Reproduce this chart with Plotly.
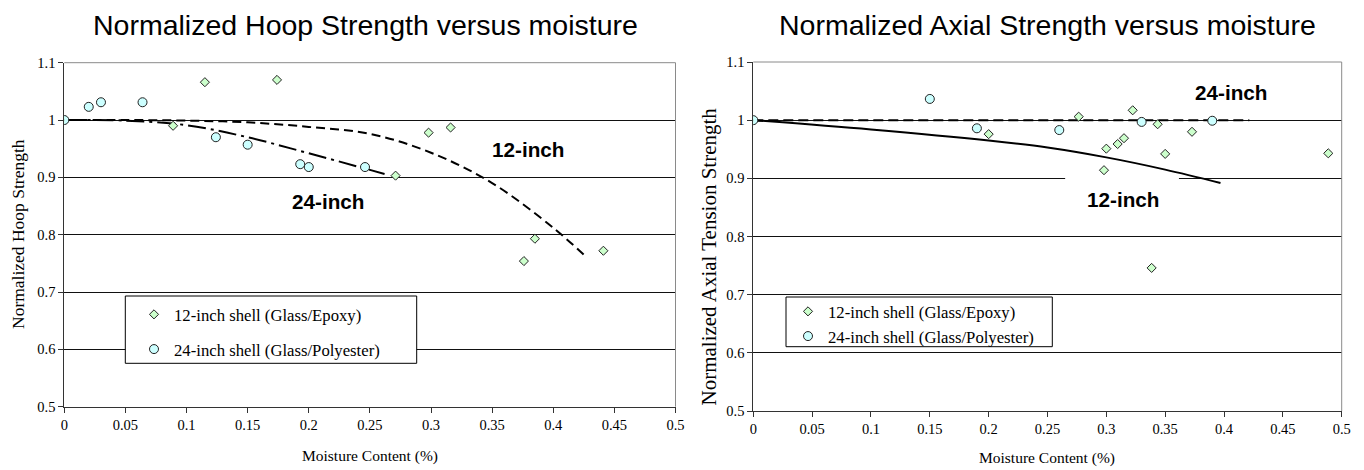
import plotly.graph_objects as go

# ---------------- data ----------------
# Left chart: Normalized Hoop Strength
hoop12_x = [0.0, 0.089, 0.115, 0.174, 0.271, 0.298, 0.316, 0.376, 0.385, 0.441]
hoop12_y = [1.0, 0.990, 1.066, 1.070, 0.903, 0.978, 0.987, 0.754, 0.793, 0.772]
hoop24_x = [0.0, 0.020, 0.030, 0.064, 0.124, 0.150, 0.193, 0.200, 0.246]
hoop24_y = [1.0, 1.023, 1.031, 1.031, 0.970, 0.957, 0.923, 0.918, 0.918]
hoop12_fit_x = [0.0, 0.05, 0.1, 0.15, 0.2, 0.25, 0.3, 0.35, 0.4, 0.427]
hoop12_fit_y = [1.0, 1.0, 0.999, 0.996, 0.988, 0.976, 0.943, 0.890, 0.812, 0.761]
hoop24_fit_x = [0.0, 0.05, 0.1, 0.15, 0.2, 0.25, 0.262]
hoop24_fit_y = [1.0, 0.999, 0.991, 0.970, 0.942, 0.913, 0.906]

# Right chart: Normalized Axial Tension Strength
axial12_x = [0.0, 0.200, 0.2765, 0.298, 0.300, 0.3096, 0.315, 0.3224, 0.3385, 0.3436, 0.350, 0.3728, 0.4886]
axial12_y = [1.0, 0.976, 1.006, 0.914, 0.951, 0.959, 0.969, 1.017, 0.746, 0.993, 0.942, 0.980, 0.943]
axial24_x = [0.0, 0.150, 0.190, 0.260, 0.330, 0.390]
axial24_y = [1.0, 1.0365, 0.986, 0.983, 0.997, 0.999]
axial24_fit_x = [0.0, 0.4215]
axial24_fit_y = [1.0, 1.0]
axial12_fit_x = [0.0, 0.1, 0.2, 0.25, 0.3, 0.35, 0.397]
axial12_fit_y = [1.0, 0.984, 0.965, 0.953, 0.936, 0.915, 0.892]

x_ticks = [0, 0.05, 0.1, 0.15, 0.2, 0.25, 0.3, 0.35, 0.4, 0.45, 0.5]
x_tick_text = ["0", "0.05", "0.1", "0.15", "0.2", "0.25", "0.3", "0.35", "0.4", "0.45", "0.5"]
y_ticks = [0.5, 0.6, 0.7, 0.8, 0.9, 1.0, 1.1]
y_tick_text = ["0.5", "0.6", "0.7", "0.8", "0.9", "1", "1.1"]

name12 = "12-inch shell (Glass/Epoxy)"
name24 = "24-inch shell (Glass/Polyester)"

SERIF = "Liberation Serif"
SANS = "Liberation Sans"
W, H = 1364, 470

diamond = dict(symbol="diamond", size=7, color="#ccffcc", line=dict(color="#222222", width=1))
circle = dict(symbol="circle", size=9, color="#ccffff", line=dict(color="#222222", width=1))

fig = go.Figure()

# left chart lines
fig.add_trace(go.Scatter(x=hoop12_fit_x, y=hoop12_fit_y, mode="lines", line=dict(color="black", width=2, dash="9px,5px", shape="spline"),
                         showlegend=False, xaxis="x", yaxis="y", hoverinfo="skip"))
fig.add_trace(go.Scatter(x=hoop24_fit_x, y=hoop24_fit_y, mode="lines", line=dict(color="black", width=2, dash="18px,5px,3px,5px", shape="spline"),
                         showlegend=False, xaxis="x", yaxis="y", hoverinfo="skip"))
fig.add_trace(go.Scatter(x=hoop12_x, y=hoop12_y, mode="markers", marker=diamond, name=name12,
                         legend="legend", legendgroup="a", xaxis="x", yaxis="y"))
fig.add_trace(go.Scatter(x=hoop24_x, y=hoop24_y, mode="markers", marker=circle, name=name24,
                         legend="legend", legendgroup="b", xaxis="x", yaxis="y"))

# right chart lines
fig.add_trace(go.Scatter(x=axial24_fit_x, y=axial24_fit_y, mode="lines", line=dict(color="black", width=2, dash="10px,5px"),
                         showlegend=False, xaxis="x2", yaxis="y2", hoverinfo="skip"))
fig.add_trace(go.Scatter(x=axial12_fit_x, y=axial12_fit_y, mode="lines", line=dict(color="black", width=2, shape="spline"),
                         showlegend=False, xaxis="x2", yaxis="y2", hoverinfo="skip"))
fig.add_trace(go.Scatter(x=axial12_x, y=axial12_y, mode="markers", marker=diamond, name=name12,
                         legend="legend2", legendgroup="c", xaxis="x2", yaxis="y2"))
fig.add_trace(go.Scatter(x=axial24_x, y=axial24_y, mode="markers", marker=circle, name=name24,
                         legend="legend2", legendgroup="d", xaxis="x2", yaxis="y2"))

def px_x(p):
    return p / W

def px_y(p):
    return 1 - p / H

tickfont = dict(family=SERIF, size=14.5, color="black")
xcommon = dict(range=[0, 0.5], tickvals=x_ticks, ticktext=x_tick_text, ticks="outside", ticklen=5,
               tickcolor="#333333", showline=True, linecolor="#333333", linewidth=1, showgrid=False,
               zeroline=False, tickfont=tickfont, automargin=False, fixedrange=True)
ycommon = dict(range=[0.5, 1.1], tickvals=y_ticks, ticktext=y_tick_text, ticks="outside", ticklen=5,
               tickcolor="#333333", showline=True, linecolor="#333333", linewidth=1, showgrid=True,
               gridcolor="#111111", gridwidth=1, zeroline=False, tickfont=tickfont, automargin=False,
               fixedrange=True)

fig.update_layout(
    width=W, height=H,
    margin=dict(l=0, r=0, t=0, b=0),
    paper_bgcolor="white", plot_bgcolor="white",
    xaxis=dict(domain=[px_x(64.3), px_x(675.5)], anchor="y", **xcommon),
    yaxis=dict(domain=[px_y(406.7), px_y(62.7)], anchor="x", **ycommon),
    xaxis2=dict(domain=[px_x(753.3), px_x(1341.7)], anchor="y2", **xcommon),
    yaxis2=dict(domain=[px_y(411), px_y(62)], anchor="x2", **ycommon),
    legend=dict(x=px_x(134), y=px_y(297), xanchor="left", yanchor="top", bgcolor="rgba(0,0,0,0)",
                borderwidth=0, font=dict(family=SERIF, size=16.7, color="black"), tracegroupgap=10),
    legend2=dict(x=px_x(788), y=px_y(294), xanchor="left", yanchor="top", bgcolor="rgba(0,0,0,0)",
                 borderwidth=0, font=dict(family=SERIF, size=16.7, color="black"), tracegroupgap=0),
    showlegend=True,
)

shapes = [
    # legend boxes
    dict(type="rect", xref="paper", yref="paper", x0=px_x(125.3), x1=px_x(416.7), y0=px_y(363.3), y1=px_y(296),
         line=dict(color="black", width=1), fillcolor="white", layer="above"),
    dict(type="rect", xref="paper", yref="paper", x0=px_x(786), x1=px_x(1052.3), y0=px_y(346.7), y1=px_y(297),
         line=dict(color="black", width=1), fillcolor="white", layer="above"),
    # plot area frame (top + right) in gray
    dict(type="line", xref="x domain", yref="y domain", x0=0, x1=1, y0=1, y1=1, line=dict(color="#8a8a8a", width=1), layer="above"),
    dict(type="line", xref="x domain", yref="y domain", x0=1, x1=1, y0=0, y1=1, line=dict(color="#8a8a8a", width=1), layer="above"),
    dict(type="line", xref="x2 domain", yref="y2 domain", x0=0, x1=1, y0=1, y1=1, line=dict(color="#8a8a8a", width=1), layer="above"),
    dict(type="line", xref="x2 domain", yref="y2 domain", x0=1, x1=1, y0=0, y1=1, line=dict(color="#8a8a8a", width=1), layer="above"),
    # white text-box background behind the right "12-inch" label (hides gridline)
    dict(type="rect", xref="x2", yref="y2", x0=0.265, x1=0.3617, y0=0.885, y1=0.915,
         line=dict(width=0), fillcolor="white", layer="between"),
]
fig.update_layout(shapes=shapes)

lbl = dict(family=SANS, size=20.7, color="black")
annotations = [
    dict(text="<b>12-inch</b>", x=0.379, y=0.948, xref="x", yref="y", showarrow=False, font=lbl),
    dict(text="<b>24-inch</b>", x=0.216, y=0.858, xref="x", yref="y", showarrow=False, font=lbl),
    dict(text="<b>24-inch</b>", x=0.406, y=1.047, xref="x2", yref="y2", showarrow=False, font=lbl),
    dict(text="<b>12-inch</b>", x=0.314, y=0.863, xref="x2", yref="y2", showarrow=False, font=lbl),
    # titles
    dict(text="Normalized Hoop Strength versus moisture", x=px_x(365), y=px_y(25), xref="paper", yref="paper",
         showarrow=False, font=dict(family=SANS, size=28.5, color="black"), xanchor="center", yanchor="middle"),
    dict(text="Normalized Axial Strength versus moisture", x=px_x(1047), y=px_y(25), xref="paper", yref="paper",
         showarrow=False, font=dict(family=SANS, size=28.5, color="black"), xanchor="center", yanchor="middle"),
    # axis titles
    dict(text="Moisture Content (%)", x=px_x(370), y=px_y(456), xref="paper", yref="paper", showarrow=False,
         font=dict(family=SERIF, size=15.5, color="black"), xanchor="center", yanchor="middle"),
    dict(text="Moisture Content (%)", x=px_x(1047), y=px_y(458), xref="paper", yref="paper", showarrow=False,
         font=dict(family=SERIF, size=15.5, color="black"), xanchor="center", yanchor="middle"),
    dict(text="Normalized Hoop Strength", x=px_x(17.5), y=px_y(234.5), xref="paper", yref="paper", showarrow=False,
         textangle=-90, font=dict(family=SERIF, size=17.5, color="black"), xanchor="center", yanchor="middle"),
    dict(text="Normalized Axial Tension Strength", x=px_x(708.5), y=px_y(257), xref="paper", yref="paper", showarrow=False,
         textangle=-90, font=dict(family=SERIF, size=21, color="black"), xanchor="center", yanchor="middle"),
]
fig.update_layout(annotations=annotations)

fig.write_html("out.html", config={"displayModeBar": False},
               post_script="document.body.style.margin='0';document.body.style.padding='0';")
